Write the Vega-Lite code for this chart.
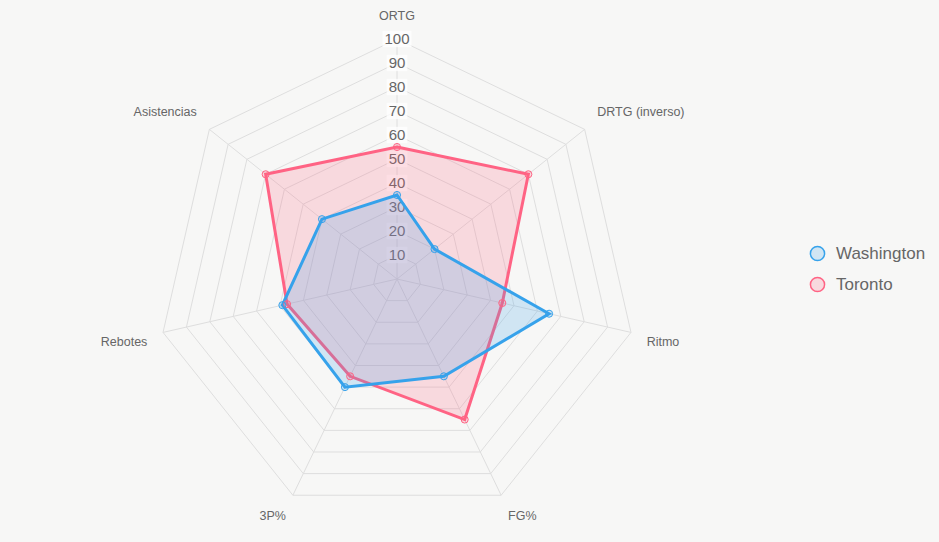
{
  "$schema": "https://vega.github.io/schema/vega-lite/v6.json",
  "width": 939,
  "height": 542,
  "autosize": {"type": "none"},
  "padding": 0,
  "background": "#f7f7f6",
  "config": {
    "view": {"stroke": null},
    "font": "Liberation Sans",
    "legend": {
      "orient": "none",
      "legendX": 809,
      "legendY": 245,
      "title": null,
      "labelFont": "Liberation Sans",
      "labelFontSize": 17,
      "labelColor": "#666666",
      "symbolSize": 200,
      "symbolStrokeWidth": 1.5,
      "symbolType": "circle",
      "rowPadding": 10,
      "labelOffset": 10
    }
  },
  "params": [
    {"name": "axisNames", "value": ["ORTG", "DRTG (inverso)", "Ritmo", "FG%", "3P%", "Rebotes", "Asistencias"]}
  ],
  "datasets": {
    "axes": [
      {"axis": "ORTG"},
      {"axis": "DRTG (inverso)"},
      {"axis": "Ritmo"},
      {"axis": "FG%"},
      {"axis": "3P%"},
      {"axis": "Rebotes"},
      {"axis": "Asistencias"}
    ],
    "levels": [
      {"level": 10}, {"level": 20}, {"level": 30}, {"level": 40}, {"level": 50},
      {"level": 60}, {"level": 70}, {"level": 80}, {"level": 90}, {"level": 100}
    ],
    "stats": [
      {"team": "Toronto", "axis": "ORTG", "value": 55},
      {"team": "Toronto", "axis": "DRTG (inverso)", "value": 70},
      {"team": "Toronto", "axis": "Ritmo", "value": 45},
      {"team": "Toronto", "axis": "FG%", "value": 65},
      {"team": "Toronto", "axis": "3P%", "value": 45},
      {"team": "Toronto", "axis": "Rebotes", "value": 47},
      {"team": "Toronto", "axis": "Asistencias", "value": 70},
      {"team": "Washington", "axis": "ORTG", "value": 35},
      {"team": "Washington", "axis": "DRTG (inverso)", "value": 20},
      {"team": "Washington", "axis": "Ritmo", "value": 65},
      {"team": "Washington", "axis": "FG%", "value": 45},
      {"team": "Washington", "axis": "3P%", "value": 50},
      {"team": "Washington", "axis": "Rebotes", "value": 49},
      {"team": "Washington", "axis": "Asistencias", "value": 40}
    ]
  },
  "encoding": {
    "x": {"field": "px", "type": "quantitative", "scale": {"domain": [-165.42, 225.83]}, "axis": null},
    "y": {"field": "py", "type": "quantitative", "scale": {"domain": [-109.58, 116.25]}, "axis": null}
  },
  "layer": [
    {
      "description": "Concentric heptagon grid, one ring per tick level",
      "data": {"name": "levels"},
      "transform": [
        {"calculate": "axisNames", "as": "axis"},
        {"flatten": ["axis"]},
        {"calculate": "indexof(axisNames, datum.axis)", "as": "idx"},
        {"calculate": "datum.level * sin(2 * PI * datum.idx / 7)", "as": "px"},
        {"calculate": "datum.level * cos(2 * PI * datum.idx / 7)", "as": "py"}
      ],
      "mark": {"type": "line", "interpolate": "linear-closed", "stroke": "#dedede", "strokeWidth": 1},
      "encoding": {
        "detail": {"field": "level", "type": "nominal"},
        "order": {"field": "idx", "type": "quantitative"}
      }
    },
    {
      "description": "Spokes from the centre to each category",
      "data": {"name": "axes"},
      "transform": [
        {"calculate": "indexof(axisNames, datum.axis)", "as": "idx"},
        {"calculate": "100 * sin(2 * PI * datum.idx / 7)", "as": "px"},
        {"calculate": "100 * cos(2 * PI * datum.idx / 7)", "as": "py"}
      ],
      "mark": {"type": "rule", "stroke": "#dedede", "strokeWidth": 1},
      "encoding": {
        "x2": {"datum": 0},
        "y2": {"datum": 0}
      }
    },
    {
      "description": "Backdrop boxes behind the tick labels",
      "data": {"name": "levels"},
      "transform": [
        {"calculate": "(length(toString(datum.level)) * 8.34 + 4) / 2 / 2.4", "as": "hw"},
        {"calculate": "-datum.hw", "as": "px"},
        {"calculate": "datum.hw", "as": "px2"},
        {"calculate": "datum.level - 3.4", "as": "py"},
        {"calculate": "datum.level + 3.4", "as": "py2"}
      ],
      "mark": {"type": "rect", "fill": "#ffffff", "opacity": 0.75},
      "encoding": {
        "x2": {"field": "px2"},
        "y2": {"field": "py2"}
      }
    },
    {
      "description": "Tick labels along the ORTG spoke",
      "data": {"name": "levels"},
      "transform": [
        {"calculate": "0", "as": "px"},
        {"calculate": "datum.level", "as": "py"}
      ],
      "mark": {"type": "text", "fontSize": 15, "color": "#666666", "align": "center", "baseline": "middle"},
      "encoding": {"text": {"field": "level", "type": "quantitative"}}
    },
    {
      "description": "Team polygons",
      "data": {"name": "stats"},
      "transform": [
        {"calculate": "indexof(axisNames, datum.axis)", "as": "idx"},
        {"calculate": "datum.value * sin(2 * PI * datum.idx / 7)", "as": "px"},
        {"calculate": "datum.value * cos(2 * PI * datum.idx / 7)", "as": "py"}
      ],
      "mark": {"type": "line", "interpolate": "linear-closed", "strokeWidth": 3, "strokeJoin": "miter"},
      "encoding": {
        "stroke": {
          "field": "team", "type": "nominal",
          "scale": {"domain": ["Washington", "Toronto"], "range": ["rgb(54,162,235)", "rgb(255,99,132)"]}
        },
        "fill": {
          "field": "team", "type": "nominal",
          "scale": {"domain": ["Washington", "Toronto"], "range": ["rgba(54,162,235,0.2)", "rgba(255,99,132,0.2)"]}
        },
        "detail": {"field": "team", "type": "nominal"},
        "order": {"field": "idx", "type": "quantitative"}
      }
    },
    {
      "description": "Vertex markers",
      "data": {"name": "stats"},
      "transform": [
        {"calculate": "indexof(axisNames, datum.axis)", "as": "idx"},
        {"calculate": "datum.value * sin(2 * PI * datum.idx / 7)", "as": "px"},
        {"calculate": "datum.value * cos(2 * PI * datum.idx / 7)", "as": "py"}
      ],
      "mark": {"type": "point", "shape": "circle", "size": 50, "strokeWidth": 1, "opacity": 1},
      "encoding": {
        "stroke": {"field": "team", "type": "nominal"},
        "fill": {"field": "team", "type": "nominal"}
      }
    },
    {
      "description": "Category labels around the outside",
      "data": {"name": "axes"},
      "transform": [
        {"calculate": "indexof(axisNames, datum.axis)", "as": "idx"},
        {"calculate": "106.7 * sin(2 * PI * datum.idx / 7)", "as": "px"},
        {"calculate": "106.7 * cos(2 * PI * datum.idx / 7)", "as": "py"}
      ],
      "mark": {
        "type": "text",
        "fontSize": 12.5,
        "color": "#666666",
        "align": {"expr": "datum.px > 1 ? 'left' : (datum.px < -1 ? 'right' : 'center')"},
        "baseline": {"expr": "datum.py > 0 ? 'bottom' : 'top'"}
      },
      "encoding": {"text": {"field": "axis", "type": "nominal"}}
    }
  ]
}
